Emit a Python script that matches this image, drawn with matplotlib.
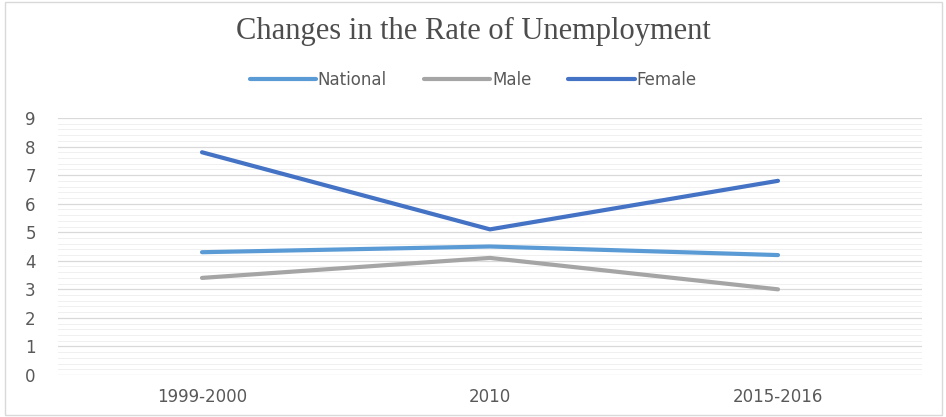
import matplotlib
matplotlib.use("Agg")
import matplotlib.pyplot as plt
import numpy as np

categories = ["1999-2000", "2010", "2015-2016"]
national = [4.3, 4.5, 4.2]
male = [3.4, 4.1, 3.0]
female = [7.8, 5.1, 6.8]
yticks = list(range(0, 10))

fig = plt.figure(figsize=(9.46, 4.17), dpi=100)
ax = fig.add_axes([58/946, 1-375/417, (922-58)/946, (375-118)/417])

x = np.arange(len(categories))
ax.plot(x, national, color="#5B9BD5", lw=3.0, label="National", solid_capstyle="round")
ax.plot(x, male, color="#A5A5A5", lw=3.0, label="Male", solid_capstyle="round")
ax.plot(x, female, color="#4472C4", lw=3.0, label="Female", solid_capstyle="round")

ax.set_xlim(-0.5, 2.5)
ax.set_ylim(0, 9)
ax.set_yticks(yticks)
ax.set_yticks(np.arange(0, 9.01, 0.2), minor=True)
ax.grid(axis="y", which="major", color="#D9D9D9", lw=0.9)
ax.grid(axis="y", which="minor", color="#F0F0F0", lw=0.7)
ax.set_axisbelow(True)
ax.set_xticks(x)
ax.set_xticklabels(categories)
for s in ax.spines.values():
    s.set_visible(False)
ax.tick_params(axis="both", which="both", length=0, colors="#595959", labelsize=12)
ax.tick_params(axis="x", pad=9)
ax.tick_params(axis="y", pad=16)

fig.text(0.5, 1-31/417, "Changes in the Rate of Unemployment", ha="center", va="center",
         fontsize=22, family="Liberation Serif", color="#4D4D4D")
leg = fig.legend(loc="center", bbox_to_anchor=(0.5, 1-80/417), ncol=3, frameon=False,
                 fontsize=12, handlelength=4.0, handletextpad=0.1, columnspacing=2.2)
for t in leg.get_texts():
    t.set_color("#595959")

fig.patches.append(plt.Rectangle((5/946, 2/417), 1-9/946, 1-4/417, transform=fig.transFigure,
                                 fill=False, edgecolor="#D9D9D9", lw=1))
fig.savefig("out.png", dpi=100)
